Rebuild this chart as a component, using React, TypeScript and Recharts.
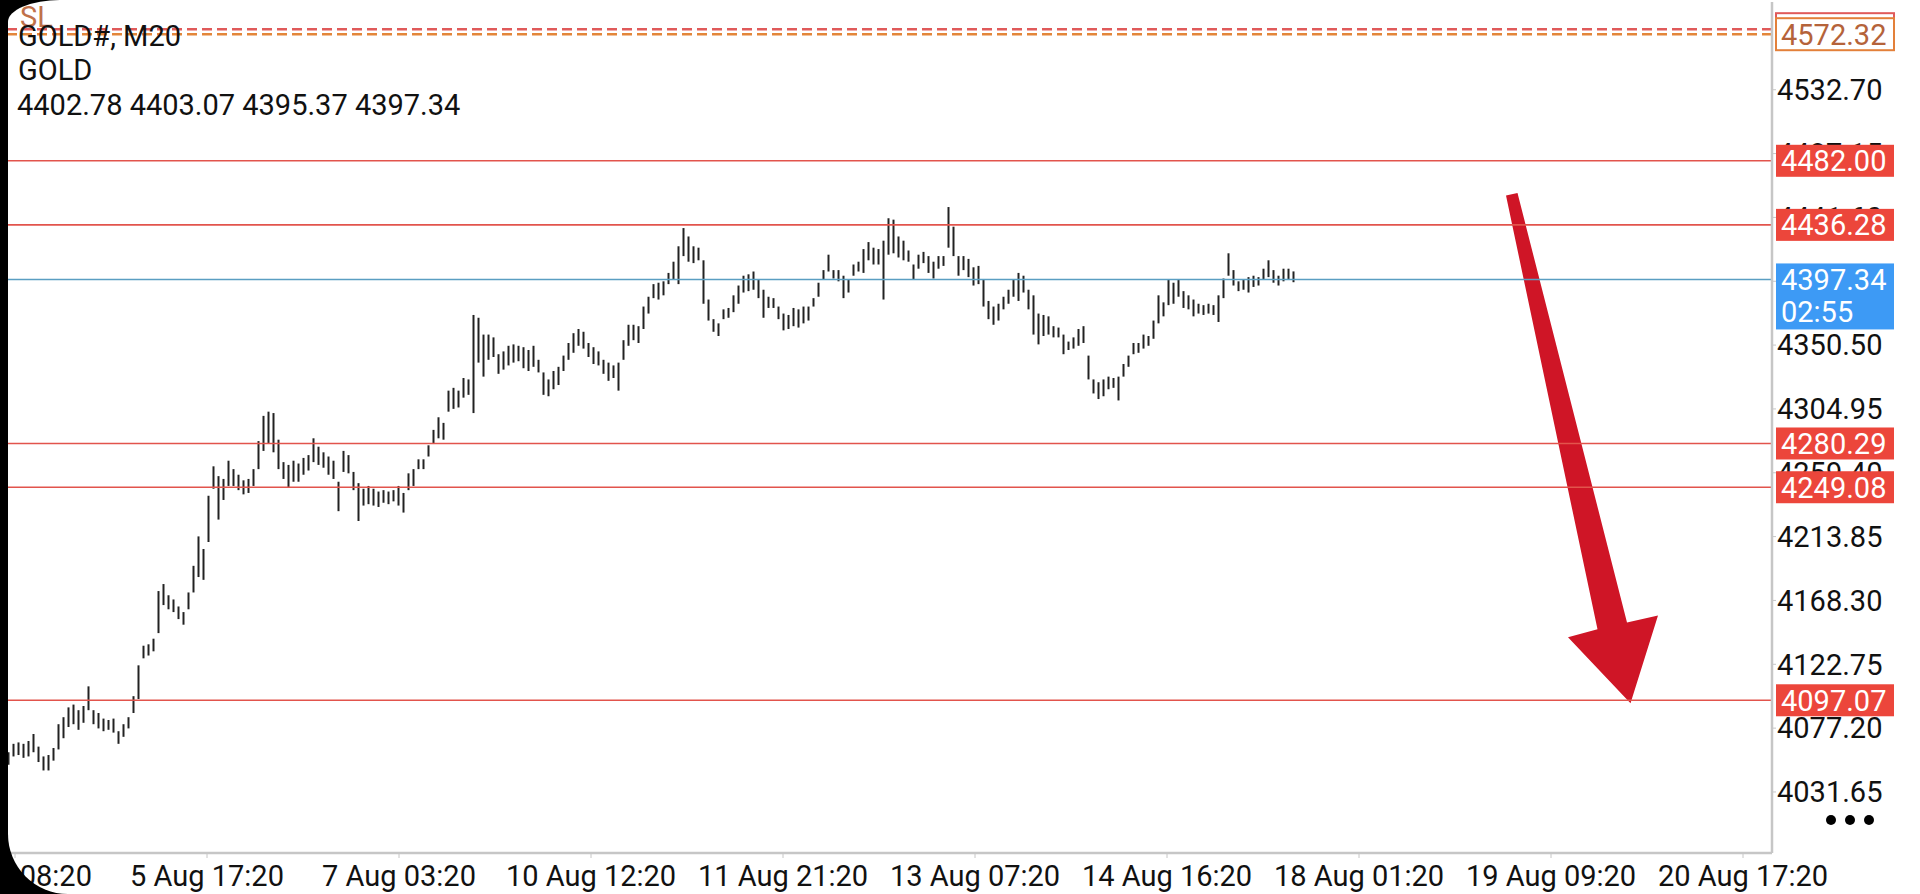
import React from 'react'
import { Bar, ComposedChart, ReferenceArea, ReferenceLine, XAxis, YAxis } from 'recharts'

// M20 bars as [low, high] (one entry per ~5px)
const fromAug4: [number, number][] = [
  [4051, 4060], [4057, 4066], [4058, 4067], [4056, 4066], [4057, 4068], [4060, 4073], [4053, 4064], [4047, 4057], [4047, 4058], [4054, 4063],
  [4062, 4080], [4070, 4085], [4078, 4092], [4080, 4094], [4076, 4090], [4081, 4093], [4090, 4107], [4080, 4090], [4077, 4088], [4075, 4084],
  [4076, 4083], [4074, 4084], [4066, 4075], [4071, 4080], [4077, 4085], [4088, 4100], [4098, 4122], [4127, 4136], [4129, 4137], [4132, 4141],
  [4145, 4175], [4165, 4180], [4162, 4172], [4160, 4169], [4155, 4164], [4151, 4160], [4162, 4174], [4174, 4193], [4185, 4214], [4183, 4205]
]
const fromAug5: [number, number][] = [
  [4210, 4243], [4248, 4264], [4226, 4257], [4240, 4255], [4250, 4268], [4250, 4262], [4247, 4258], [4244, 4254], [4245, 4255], [4250, 4262],
  [4262, 4282], [4275, 4300], [4280, 4303], [4274, 4302], [4262, 4283], [4255, 4267], [4249, 4265], [4253, 4268], [4253, 4266], [4258, 4270],
  [4261, 4272], [4267, 4284], [4265, 4278], [4263, 4274], [4258, 4271], [4255, 4268], [4232, 4253], [4260, 4275], [4259, 4272], [4247, 4260],
  [4225, 4252], [4236, 4248], [4237, 4250], [4236, 4248], [4235, 4246], [4238, 4247], [4237, 4246], [4239, 4247]
]
const fromAug7: [number, number][] = [
  [4236, 4250], [4231, 4245], [4247, 4259], [4250, 4262], [4262, 4269], [4262, 4269], [4271, 4279], [4280, 4290], [4284, 4299], [4283, 4295],
  [4303, 4318], [4305, 4320], [4306, 4318], [4313, 4327], [4315, 4326], [4302, 4372], [4338, 4370], [4328, 4358], [4340, 4358], [4342, 4356],
  [4330, 4344], [4333, 4346], [4336, 4350], [4338, 4351], [4339, 4350], [4334, 4349], [4332, 4347], [4335, 4350], [4331, 4340], [4315, 4331],
  [4314, 4326], [4319, 4332], [4322, 4335], [4332, 4343], [4340, 4352], [4345, 4359], [4350, 4362], [4348, 4360], [4342, 4352]
]
const fromAug10: [number, number][] = [
  [4337, 4349], [4336, 4346], [4330, 4340], [4325, 4338], [4327, 4336], [4318, 4338], [4340, 4354], [4350, 4365], [4354, 4365], [4352, 4364],
  [4362, 4378], [4373, 4385], [4384, 4394], [4383, 4395], [4386, 4396], [4394, 4402], [4397, 4410], [4394, 4421], [4414, 4434], [4410, 4428],
  [4409, 4421], [4411, 4420], [4380, 4411], [4368, 4383], [4360, 4369], [4357, 4366], [4369, 4376], [4370, 4377], [4374, 4386], [4380, 4393],
  [4388, 4400], [4389, 4401], [4390, 4403], [4384, 4397], [4370, 4390], [4377, 4385], [4377, 4384], [4369, 4378]
]
const fromAug11: [number, number][] = [
  [4361, 4373], [4362, 4372], [4364, 4377], [4363, 4376], [4366, 4378], [4368, 4378], [4378, 4384], [4385, 4395], [4397, 4404], [4403, 4415],
  [4398, 4404], [4396, 4404], [4384, 4400], [4388, 4397], [4400, 4408], [4403, 4410], [4402, 4419], [4411, 4424], [4408, 4420], [4408, 4419],
  [4383, 4425], [4415, 4441], [4416, 4440], [4413, 4428], [4411, 4425], [4410, 4418], [4397, 4408], [4405, 4415], [4409, 4417], [4402, 4414],
  [4398, 4410], [4405, 4414], [4407, 4414], [4420, 4449], [4414, 4435], [4400, 4414], [4404, 4414], [4399, 4412], [4393, 4406]
]
const fromAug13: [number, number][] = [
  [4394, 4407], [4378, 4397], [4369, 4382], [4365, 4378], [4368, 4380], [4376, 4385], [4380, 4390], [4385, 4397], [4382, 4402], [4388, 4400],
  [4376, 4390], [4358, 4386], [4351, 4373], [4357, 4372], [4358, 4371], [4356, 4364], [4356, 4363], [4344, 4358], [4347, 4353], [4348, 4356],
  [4350, 4362], [4352, 4364], [4326, 4343], [4316, 4326], [4312, 4324], [4314, 4326], [4319, 4328], [4320, 4327], [4311, 4328], [4328, 4337],
  [4335, 4343], [4344, 4352], [4345, 4352], [4348, 4358], [4350, 4357], [4355, 4368], [4366, 4386], [4371, 4381]
]
const fromAug14: [number, number][] = [
  [4379, 4397], [4380, 4395], [4385, 4397], [4377, 4389], [4376, 4386], [4371, 4383], [4373, 4380], [4372, 4379], [4373, 4380], [4372, 4379],
  [4367, 4386], [4384, 4398], [4400, 4416], [4393, 4404], [4389, 4396], [4390, 4397], [4388, 4399], [4392, 4400], [4393, 4399], [4397, 4405],
  [4399, 4411], [4395, 4404], [4393, 4400], [4396, 4405], [4397, 4405], [4395.37, 4403.07]
]

const timeTicks = [1.2, 39.6, 78, 116.4, 154.8, 193.2, 231.6, 270, 308.4, 346.8]
const timeLabels = [
  '4 Aug 08:20', '5 Aug 17:20', '7 Aug 03:20', '10 Aug 12:20', '11 Aug 21:20',
  '13 Aug 07:20', '14 Aug 16:20', '18 Aug 01:20', '19 Aug 09:20', '20 Aug 17:20'
]
const priceTicks = [4031.65, 4077.2, 4122.75, 4168.3, 4213.85, 4259.4, 4304.95, 4350.5, 4396.05, 4441.6, 4487.15, 4532.7]

const redLevels = [4482.0, 4436.28, 4280.29, 4249.08, 4097.07]
const lastPrice = 4397.34
const countdown = '02:55'
const orderLevel = 4572.32
const slLevel = 4575.9
const lastOhlc = [4402.78, 4403.07, 4395.37, 4397.34]

// hand-drawn arrow, in (bar index, price)
const arrowPts: [number, number][] = [
  [299.4, 4457.3], [301.7, 4459.0], [323.6, 4152.6], [329.8, 4157.5], [324.3, 4094.9], [311.8, 4142.0], [317.7, 4147.7]
]

const bars = [fromAug4, fromAug5, fromAug7, fromAug10, fromAug11, fromAug13, fromAug14]
  .flat()
  .map((r, i) => ({ i, range: r }))

const FONT = 'Roboto, sans-serif'
const RED = '#ec463b'
const RED_LINE = '#e2544c'
const BLUE_TAG = '#3d9af5'
const BLUE_LINE = '#5a9ec2'
const FRAME = '#c6c6c6'
const X_DOMAIN: [number, number] = [-0.2, 352.6]
const Y_DOMAIN: [number, number] = [3988.1, 4595.3]
const MARGIN = { top: 2, right: 0, bottom: 0, left: 8 }

function PriceTag(props: any) {
  const { viewBox, text, sub, fill, stroke, color } = props
  if (!viewBox) return null
  const x = viewBox.x + viewBox.width + 4
  const y = viewBox.y
  const h = sub ? 66 : 32
  return (
    <g>
      <rect
        x={x}
        y={y - 16}
        width={118}
        height={h}
        fill={fill}
        stroke={stroke ?? 'none'}
        strokeWidth={stroke ? 2 : 0}
      />
      {text && (
        <text x={x + 5} y={y} dy="0.355em" fontSize={29} fill={color} fontFamily={FONT}>
          {text}
        </text>
      )}
      {sub && (
        <text x={x + 5} y={y + 32} dy="0.355em" fontSize={29} fill={color} fontFamily={FONT}>
          {sub}
        </text>
      )}
    </g>
  )
}

function SlLabel(props: any) {
  const { viewBox } = props
  if (!viewBox) return null
  return (
    <text x={viewBox.x + 12} y={viewBox.y - 2} fontSize={29} fill="#c0714a" fontFamily={FONT}>
      SL
    </text>
  )
}

const ax = arrowPts.map((p) => p[0])
const ay = arrowPts.map((p) => p[1])
const arrowBox = { x1: Math.min(...ax), x2: Math.max(...ax), y1: Math.min(...ay), y2: Math.max(...ay) }

function ArrowShape(props: any) {
  const { x, y, width, height } = props
  const pts = arrowPts
    .map(([v, p]) => {
      const px = x + ((v - arrowBox.x1) / (arrowBox.x2 - arrowBox.x1)) * width
      const py = y + ((arrowBox.y2 - p) / (arrowBox.y2 - arrowBox.y1)) * height
      return `${px},${py}`
    })
    .join(' ')
  return <polygon points={pts} fill="#cf1526" />
}

export default function App() {
  return (
    <div style={{ position: 'absolute', left: 0, top: 0, width: 1920, height: 894, background: '#fff', overflow: 'hidden' }}>
      {/* price chart with axes */}
      <ComposedChart width={1920} height={894} data={bars} margin={MARGIN}>
        <XAxis
          xAxisId="top"
          orientation="top"
          type="number"
          domain={X_DOMAIN}
          height={0}
          tick={false}
          tickLine={false}
          axisLine={{ stroke: FRAME, strokeWidth: 2.5 }}
        />
        <XAxis
          dataKey="i"
          type="number"
          domain={X_DOMAIN}
          allowDataOverflow
          ticks={timeTicks}
          interval={0}
          tickFormatter={(v) => timeLabels[timeTicks.indexOf(v)] ?? ''}
          height={41}
          tickSize={5}
          tickMargin={7}
          tick={{ fill: '#111', fontSize: 29, fontFamily: FONT }}
          tickLine={{ stroke: FRAME }}
          axisLine={{ stroke: FRAME, strokeWidth: 2.5 }}
        />
        <YAxis
          orientation="right"
          type="number"
          domain={Y_DOMAIN}
          allowDataOverflow
          ticks={priceTicks}
          interval={0}
          tickFormatter={(v) => v.toFixed(2)}
          width={148}
          tickSize={4}
          tickMargin={1}
          tick={{ fill: '#111', fontSize: 29, fontFamily: FONT }}
          tickLine={{ stroke: FRAME }}
          axisLine={{ stroke: FRAME, strokeWidth: 2.5 }}
        />

        {redLevels.map((v) => (
          <ReferenceLine key={v} y={v} stroke={RED_LINE} strokeWidth={1.6} />
        ))}
        <ReferenceLine y={lastPrice} stroke={BLUE_LINE} strokeWidth={1.6} />
        <ReferenceLine y={slLevel} stroke="#e05a5a" strokeWidth={2.5} strokeDasharray="10 5" label={<SlLabel />} />
        <ReferenceLine y={orderLevel} stroke="#e3863a" strokeWidth={2.5} strokeDasharray="10 5" />

        <Bar dataKey="range" fill="#222" barSize={2} isAnimationActive={false} />

        <ReferenceArea
          x1={arrowBox.x1}
          x2={arrowBox.x2}
          y1={arrowBox.y1}
          y2={arrowBox.y2}
          ifOverflow="visible"
          shape={ArrowShape}
        />
      </ComposedChart>

      {/* price tags on top of the axis labels, same plot geometry */}
      <div style={{ position: 'absolute', left: 0, top: 0, pointerEvents: 'none' }}>
        <ComposedChart width={1920} height={894} data={bars} margin={MARGIN}>
          <XAxis xAxisId="top" orientation="top" type="number" domain={X_DOMAIN} height={0} tick={false} tickLine={false} axisLine={false} />
          <XAxis dataKey="i" type="number" domain={X_DOMAIN} allowDataOverflow height={41} tick={false} tickLine={false} axisLine={false} />
          <YAxis orientation="right" type="number" domain={Y_DOMAIN} allowDataOverflow width={148} tick={false} tickLine={false} axisLine={false} />
          <Bar dataKey="range" fill="none" barSize={2} isAnimationActive={false} />
          {redLevels.map((v) => (
            <ReferenceLine
              key={v}
              y={v}
              stroke="none"
              ifOverflow="visible"
              label={<PriceTag text={v.toFixed(2)} fill={RED} color="#fff" />}
            />
          ))}
          <ReferenceLine
            y={lastPrice}
            stroke="none"
            ifOverflow="visible"
            label={<PriceTag text={lastPrice.toFixed(2)} sub={countdown} fill={BLUE_TAG} color="#fff" />}
          />
          <ReferenceLine y={slLevel} stroke="none" ifOverflow="visible" label={<PriceTag fill="#fff" stroke="#e05a5a" />} />
          <ReferenceLine
            y={orderLevel}
            stroke="none"
            ifOverflow="visible"
            label={<PriceTag text={orderLevel.toFixed(2)} fill="#fff" stroke="#e3803a" color="#b5633a" />}
          />
        </ComposedChart>
      </div>

      <div style={{ position: 'absolute', left: 18, top: 22, font: `29px ${FONT}`, lineHeight: 1, color: '#111' }}>
        GOLD#, M20
      </div>
      <div style={{ position: 'absolute', left: 18, top: 56, font: `29px ${FONT}`, lineHeight: 1, color: '#111' }}>
        GOLD
      </div>
      <div style={{ position: 'absolute', left: 17, top: 91, font: `29px ${FONT}`, lineHeight: 1, color: '#111', whiteSpace: 'pre' }}>
        {lastOhlc.map((v) => v.toFixed(2)).join(' ')}
      </div>

      <div style={{ position: 'absolute', left: 1826, top: 815, display: 'flex', gap: 9 }}>
        {[0, 1, 2].map((k) => (
          <div key={k} style={{ width: 10, height: 10, borderRadius: 5, background: '#000' }} />
        ))}
      </div>

      {/* phone screen edge */}
      <div
        style={{
          position: 'absolute',
          left: 8,
          top: 0,
          width: 2000,
          height: 894,
          borderTopLeftRadius: '52px 22px',
          borderBottomLeftRadius: 60,
          boxShadow: '0 0 0 120px #000',
          pointerEvents: 'none'
        }}
      />
    </div>
  )
}
